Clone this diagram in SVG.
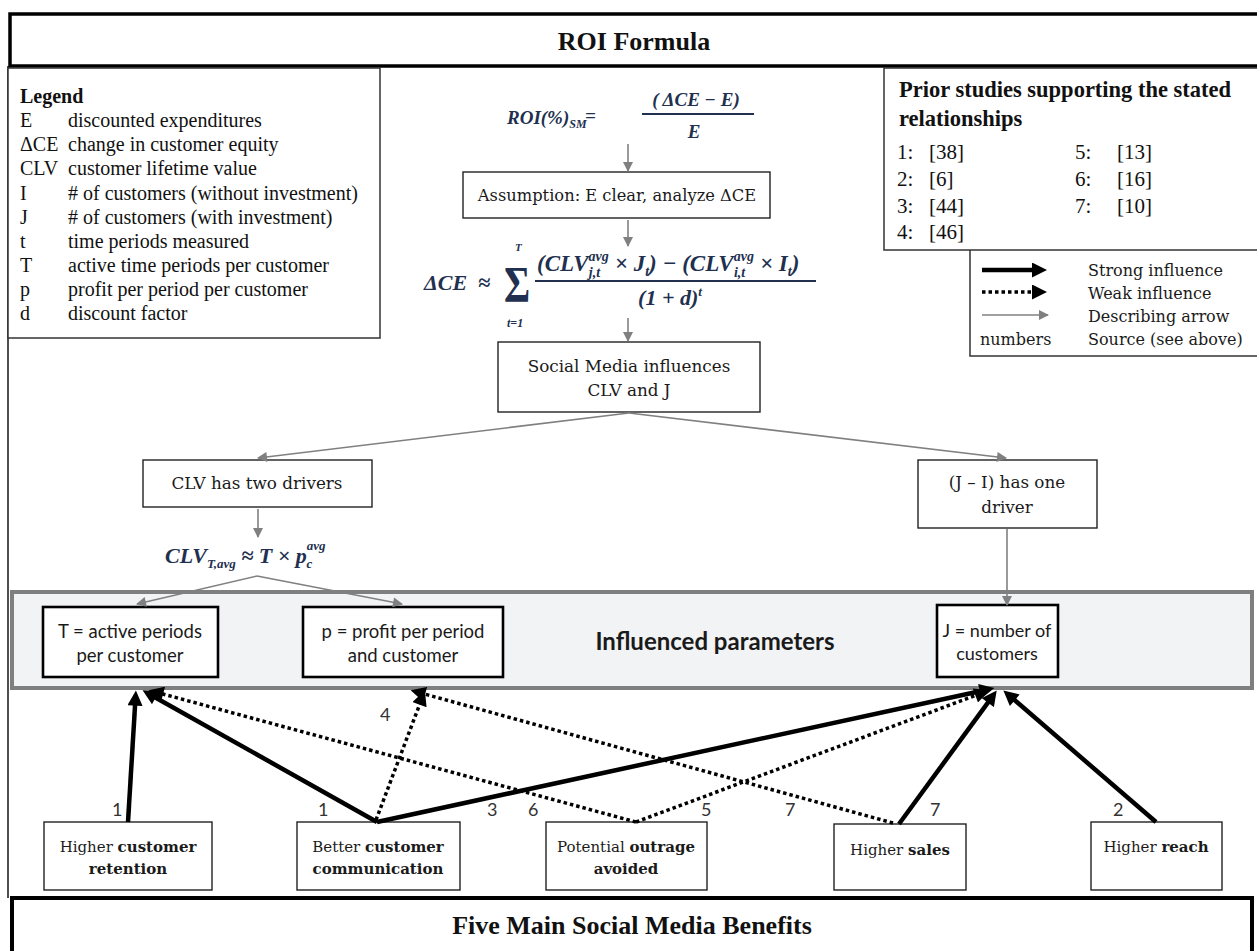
<svg xmlns="http://www.w3.org/2000/svg" width="1257" height="951" viewBox="0 0 1257 951">
<style>
.serif{font-family:"Liberation Serif","Times New Roman",serif;fill:#111}
.camb{font-family:"DejaVu Serif",serif;fill:#1a1a1a}
.cal{font-family:Lato,"Open Sans",sans-serif;fill:#1a1a1a}
.math{font-family:"Liberation Serif",serif;font-style:italic;font-weight:bold;fill:#22304f}
.box{fill:#fff;stroke:#222;stroke-width:1.4}
.pbox{fill:#fff;stroke:#000;stroke-width:2.6}
.gray{stroke:#808080;stroke-width:1.6;fill:none;marker-end:url(#ag)}
.strong{stroke:#000;stroke-width:4.5;fill:none;marker-end:url(#as)}
.weak{stroke:#000;stroke-width:3.5;stroke-dasharray:3.5 3;fill:none;marker-end:url(#as)}
.num{font-family:Lato,sans-serif;font-size:18px;fill:#333}
.mid{text-anchor:middle}
</style>
<defs>
<marker id="as" viewBox="0 0 10 10" refX="4" refY="5" markerWidth="16" markerHeight="15" markerUnits="userSpaceOnUse" orient="auto"><path d="M0,0 L10,5 L0,10 z" fill="#000"/></marker>
<marker id="ag" viewBox="0 0 10 10" refX="9" refY="5" markerWidth="11" markerHeight="10" markerUnits="userSpaceOnUse" orient="auto"><path d="M0,0 L10,5 L0,10 z" fill="#808080"/></marker>
</defs>
<rect width="1257" height="951" fill="#fff"/>

<line x1="8" y1="66" x2="8" y2="898" stroke="#222" stroke-width="1.6"/>
<g id="title-top">
<rect x="10" y="14" width="1260" height="52" fill="#fff" stroke="#000" stroke-width="3.5"/>
<text class="serif mid" x="634" y="50" font-size="26" font-weight="bold">ROI Formula</text>
</g>

<g id="legend">
<rect x="8" y="68" width="372" height="270" fill="#fff" stroke="#333" stroke-width="1.5"/>
<g class="serif" font-size="20">
<text x="20" y="103" font-weight="bold">Legend</text>
<text x="20" y="127">E</text><text x="68" y="127">discounted expenditures</text>
<text x="20" y="151">ΔCE</text><text x="68" y="151">change in customer equity</text>
<text x="20" y="175">CLV</text><text x="68" y="175">customer lifetime value</text>
<text x="20" y="200">I</text><text x="68" y="200"># of customers (without investment)</text>
<text x="20" y="224">J</text><text x="68" y="224"># of customers (with investment)</text>
<text x="20" y="248">t</text><text x="68" y="248">time periods measured</text>
<text x="20" y="272">T</text><text x="68" y="272">active time periods per customer</text>
<text x="20" y="296">p</text><text x="68" y="296">profit per period per customer</text>
<text x="20" y="320">d</text><text x="68" y="320">discount factor</text>
</g>
</g>

<g id="prior-studies">
<rect x="884" y="68" width="380" height="182" fill="#fff" stroke="#333" stroke-width="1.5"/>
<g class="serif" font-size="21">
<text x="899" y="97" font-weight="bold" font-size="22.5">Prior studies supporting the stated</text>
<text x="899" y="126" font-weight="bold" font-size="22.5">relationships</text>
<text x="897" y="159">1:</text><text x="929" y="159">[38]</text>
<text x="897" y="186">2:</text><text x="929" y="186">[6]</text>
<text x="897" y="213">3:</text><text x="929" y="213">[44]</text>
<text x="897" y="239">4:</text><text x="929" y="239">[46]</text>
<text x="1075" y="159">5:</text><text x="1117" y="159">[13]</text>
<text x="1075" y="186">6:</text><text x="1117" y="186">[16]</text>
<text x="1075" y="213">7:</text><text x="1117" y="213">[10]</text>
</g>
</g>

<g id="arrow-legend">
<polyline points="970,250 970,356 1262,356" fill="none" stroke="#333" stroke-width="1.5"/>
<line x1="982" y1="270" x2="1038" y2="270" class="strong"/>
<line x1="982" y1="292" x2="1038" y2="292" class="weak"/>
<line x1="982" y1="315" x2="1048" y2="315" class="gray"/>
<g class="camb" font-size="16">
<text x="980" y="345">numbers</text>
<text x="1088" y="276">Strong influence</text>
<text x="1088" y="299">Weak influence</text>
<text x="1088" y="322">Describing arrow</text>
<text x="1088" y="345">Source (see above)</text>
</g>
</g>

<g id="roi-formula" class="math" font-size="19">
<text x="507" y="124">ROI(%)<tspan font-size="12" dy="4">SM</tspan></text>
<text x="585" y="122">=</text>
<text x="696" y="106" text-anchor="middle">( ΔCE − E)</text>
<line x1="642" y1="114" x2="754" y2="114" stroke="#22304f" stroke-width="1.8"/>
<text x="694" y="138" text-anchor="middle">E</text>
</g>

<g id="assumption">
<rect class="box" x="463" y="172" width="307" height="46"/>
<text class="camb mid" x="617" y="201" font-size="16.3">Assumption: E clear, analyze ΔCE</text>
</g>

<g id="dce-formula" class="math" font-size="22">
<text x="424" y="290">ΔCE</text>
<text x="478" y="290">≈</text>
<text transform="translate(504,301) scale(0.8,1)" font-size="50" font-style="normal">Σ</text>
<text x="515" y="251" font-size="11">T</text>
<text x="507" y="327" font-size="12">t=1</text>
<text x="537" y="271" font-size="23">(CLV<tspan font-size="14" dy="-10">avg</tspan><tspan font-size="14" dx="-20" dy="16">j,t</tspan><tspan dx="9" dy="-6"> × J</tspan><tspan font-size="14" dy="5">t</tspan><tspan dy="-5">) − (CLV</tspan><tspan font-size="14" dy="-10">avg</tspan><tspan font-size="14" dx="-20" dy="16">i,t</tspan><tspan dx="9" dy="-6"> × I</tspan><tspan font-size="14" dy="5">t</tspan><tspan dy="-5">)</tspan></text>
<line x1="535" y1="281" x2="816" y2="281" stroke="#22304f" stroke-width="1.8"/>
<text x="670" y="305" text-anchor="middle">(1 + d)<tspan font-size="13" dy="-9">t</tspan></text>
</g>

<g id="social-media">
<rect class="box" x="498" y="342" width="262" height="70"/>
<text class="camb mid" x="629" y="372" font-size="16.8">Social Media influences</text>
<text class="camb mid" x="629" y="396" font-size="16.8">CLV and J</text>
</g>

<g id="clv-drivers">
<rect class="box" x="143" y="460" width="229" height="47"/>
<text class="camb mid" x="257" y="489" font-size="16.8">CLV has two drivers</text>
</g>

<g id="ji-driver">
<rect class="box" x="918" y="460" width="179" height="68"/>
<text class="camb mid" x="1007" y="488" font-size="16.8">(J – I)  has one</text>
<text class="camb mid" x="1007" y="513" font-size="16.8">driver</text>
</g>

<g id="clv-formula" class="math" font-size="22">
<text x="165" y="563">CLV<tspan font-size="13" dy="5">T,avg</tspan><tspan dy="-5"> ≈ T × p</tspan><tspan font-size="13" dy="-13">avg</tspan><tspan font-size="13" dx="-19" dy="18">c</tspan></text>
</g>

<g id="influenced-parameters">
<rect x="12" y="592" width="1240" height="96" fill="#f2f3f5" stroke="#7f7f7f" stroke-width="4"/>
<text class="cal mid" x="715" y="650" font-size="24" font-weight="bold" fill="#222">Influenced parameters</text>
</g>
<g id="param-T">
<rect class="pbox" x="43" y="607" width="175" height="70"/>
<text class="cal mid" x="130" y="638" font-size="18.5">T = active periods</text>
<text class="cal mid" x="130" y="662" font-size="18.5">per customer</text>
</g>
<g id="param-p">
<rect class="pbox" x="303" y="607" width="200" height="70"/>
<text class="cal mid" x="403" y="638" font-size="18.5">p = profit per period</text>
<text class="cal mid" x="403" y="662" font-size="18.5">and customer</text>
</g>
<g id="param-J">
<rect class="pbox" x="937" y="605" width="121" height="72"/>
<text class="cal mid" x="997" y="637" font-size="18">J = number of</text>
<text class="cal mid" x="997" y="660" font-size="18">customers</text>
</g>

<g id="benefit-retention">
<rect class="box" x="44" y="822" width="168" height="68"/>
<text class="camb mid" x="128" y="852" font-size="15">Higher <tspan font-weight="bold">customer</tspan></text>
<text class="camb mid" x="128" y="874" font-size="15" font-weight="bold">retention</text>
</g>
<g id="benefit-communication">
<rect class="box" x="297" y="822" width="163" height="68"/>
<text class="camb mid" x="378" y="852" font-size="15">Better <tspan font-weight="bold">customer</tspan></text>
<text class="camb mid" x="378" y="874" font-size="15" font-weight="bold">communication</text>
</g>
<g id="benefit-outrage">
<rect class="box" x="546" y="822" width="161" height="68"/>
<text class="camb mid" x="626" y="852" font-size="15">Potential <tspan font-weight="bold">outrage</tspan></text>
<text class="camb mid" x="626" y="874" font-size="15" font-weight="bold">avoided</text>
</g>
<g id="benefit-sales">
<rect class="box" x="834" y="824" width="132" height="66"/>
<text class="camb mid" x="900" y="855" font-size="15">Higher <tspan font-weight="bold">sales</tspan></text>
</g>
<g id="benefit-reach">
<rect class="box" x="1091" y="822" width="131" height="68"/>
<text class="camb mid" x="1156" y="852" font-size="15">Higher <tspan font-weight="bold">reach</tspan></text>
</g>

<g id="title-bottom">
<rect x="12" y="898" width="1240" height="70" fill="#fff" stroke="#000" stroke-width="4"/>
<text class="serif mid" x="632" y="934" font-size="26" font-weight="bold">Five Main Social Media Benefits</text>
</g>

<g id="connectors">
<line class="gray" x1="628" y1="144" x2="628" y2="171"/>
<line class="gray" x1="628" y1="220" x2="628" y2="246"/>
<line class="gray" x1="628" y1="318" x2="628" y2="341"/>
<line class="gray" x1="629" y1="413" x2="258" y2="458"/>
<line class="gray" x1="629" y1="413" x2="1006" y2="458"/>
<line class="gray" x1="258" y1="509" x2="258" y2="537"/>
<line class="gray" x1="257" y1="576" x2="137" y2="604"/>
<line class="gray" x1="257" y1="576" x2="402" y2="604"/>
<line class="gray" x1="1007" y1="529" x2="1007" y2="605"/>

<line class="strong" x1="128" y1="822" x2="135.4" y2="699.6"/>
<line class="strong" x1="377" y1="822" x2="150.4" y2="694.7"/>
<line class="strong" x1="377" y1="822" x2="985.6" y2="690"/>
<line class="strong" x1="899" y1="824" x2="991.4" y2="697.8"/>
<line class="strong" x1="1156" y1="822" x2="1010.2" y2="696.3"/>

<line class="weak" x1="376" y1="820" x2="421.7" y2="699"/>
<line class="weak" x1="893" y1="823" x2="419.3" y2="692.6"/>
<line class="weak" x1="636" y1="822" x2="157.3" y2="692.5"/>
<line class="weak" x1="636" y1="822" x2="981" y2="693.4"/>

<text class="num" x="112" y="816">1</text>
<text class="num" x="318" y="816">1</text>
<text class="num" x="487" y="816">3</text>
<text class="num" x="528" y="816">6</text>
<text class="num" x="701" y="816">5</text>
<text class="num" x="785" y="816">7</text>
<text class="num" x="930" y="816">7</text>
<text class="num" x="1113" y="816">2</text>
<text class="num" x="380" y="721">4</text>
</g>
</svg>
